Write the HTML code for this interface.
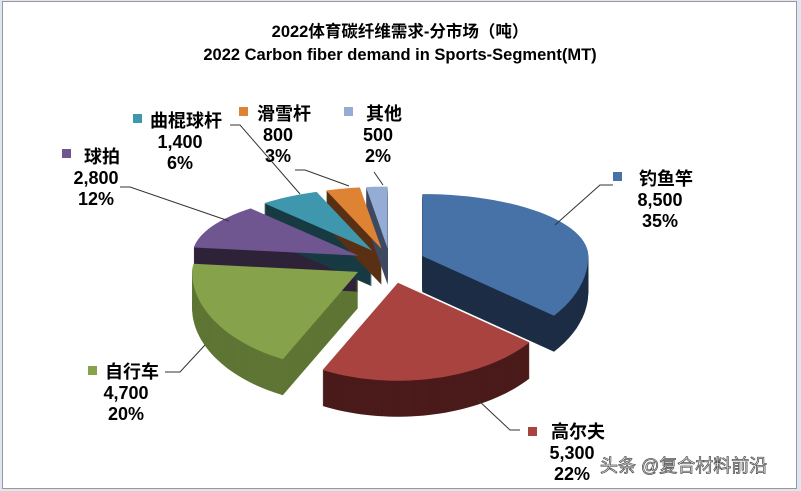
<!DOCTYPE html>
<html><head><meta charset="utf-8"><style>
body{margin:0;width:801px;height:491px;overflow:hidden;background:#dfe6f3;font-family:"Liberation Sans","Noto Sans CJK SC",sans-serif}
#frame{position:absolute;left:2px;top:1px;width:793px;height:486px;background:#fff;border:1px solid #999}
svg{position:absolute;left:0;top:0}
.lb{font-weight:bold;font-size:18px;fill:#000;text-anchor:middle;stroke:#fff;stroke-width:0.6px;paint-order:stroke}
.t{font-weight:bold;font-size:16.5px;text-anchor:middle;fill:#000}
</style></head><body>
<div id="frame"></div>
<svg id="chart" width="801" height="491">
<text class="t" x="400" y="37">2022体育碳纤维需求-分市场（吨）</text>
<text class="t" x="400" y="60">2022 Carbon fiber demand in Sports-Segment(MT)</text>
<g id="sides"></g><g id="tops"></g><g id="labels"></g>
<text x="600" y="472" font-size="18" fill="#fff" stroke="#555" stroke-width="0.8">头条 @复合材料前沿</text>
</svg>
<script>
const categories=["钓鱼竿","高尔夫","自行车","球拍","曲棍球杆","滑雪杆","其他"];
const values=[8500,5300,4700,2800,1400,800,500];
const percents=["35%","22%","20%","12%","6%","3%","2%"];
const valueLabels=["8,500","5,300","4,700","2,800","1,400","800","500"];
const topColors=["#4672a8","#a8433f","#86a24a","#6f5690","#3e97ad","#de8233","#95acd5"];
const sideColors=["#1c2d45","#4a1b1a","#5f7534","#2e2238","#183a42","#5a3014","#3d4a62"];
const NS="http://www.w3.org/2000/svg";
const cx=390,cy=262,rx=166,ryB=62,ryF=98,depth=36,explode=36;
function pt(a,r){const s=Math.sin(a),c=-Math.cos(a);return [r*s, c*(c<0?ryB:ryF)*r/rx];}
const total=values.reduce((a,b)=>a+b,0);
let start=0;const slices=[];
values.forEach((v,i)=>{const sweep=v/total*2*Math.PI;slices.push({i,a0:start,a1:start+sweep});start+=sweep;});
function path(s,dy){const mid=(s.a0+s.a1)/2;const e=pt(mid,explode);const ox=cx+e[0],oy=cy+e[1]+dy;
 let d=`M${ox},${oy}`;const n=40;
 for(let k=0;k<=n;k++){const a=s.a0+(s.a1-s.a0)*k/n;const p=pt(a,rx);d+=`L${(ox+p[0]).toFixed(1)},${(oy+p[1]).toFixed(1)}`;}
 return d+"Z";}
const sides=document.getElementById('sides'),tops=document.getElementById('tops');
slices.forEach(s=>{for(let d=depth;d>0;d-=1){const p=document.createElementNS(NS,'path');p.setAttribute('d',path(s,d));p.setAttribute('fill',sideColors[s.i]);


sides.appendChild(p);}});
slices.forEach(s=>{const p=document.createElementNS(NS,'path');p.setAttribute('d',path(s,0));p.setAttribute('fill',topColors[s.i]);


tops.appendChild(p);});
const lab=[[613,172,660,185,"555,225 600,185 613,185"],[528,427,572,438,"478,400 510,430 520,430"],[88,366,126,378,"205,345 180,372 165,372"],[62,149,96,163,"229,221 130,187 120,187"],[133,114,180,127,"300,194 240,125 230,125"],[239,107,278,120,"349,186 305,170 295,170"],[344,107,378,120,"383,185 374,172"]];
const L=document.getElementById('labels');
lab.forEach((l,i)=>{
 const pl=document.createElementNS(NS,'polyline');pl.setAttribute('points',l[4]);pl.setAttribute('fill','none');pl.setAttribute('stroke','#333');pl.setAttribute('stroke-width','1');
 
 
 L.appendChild(pl);
 const r=document.createElementNS(NS,'rect');r.setAttribute('x',l[0]);r.setAttribute('y',l[1]);r.setAttribute('width',9);r.setAttribute('height',9);r.setAttribute('fill',topColors[i]);
 
 
 L.appendChild(r);
 [categories[i],valueLabels[i],percents[i]].forEach((t,k)=>{const tx=document.createElementNS(NS,'text');tx.setAttribute('class','lb');
  tx.setAttribute('x',k==0?l[2]+6:l[2]);tx.setAttribute('y',l[3]+k*21);tx.textContent=t;
  
  
  L.appendChild(tx);});
});
</script>
</body></html>
